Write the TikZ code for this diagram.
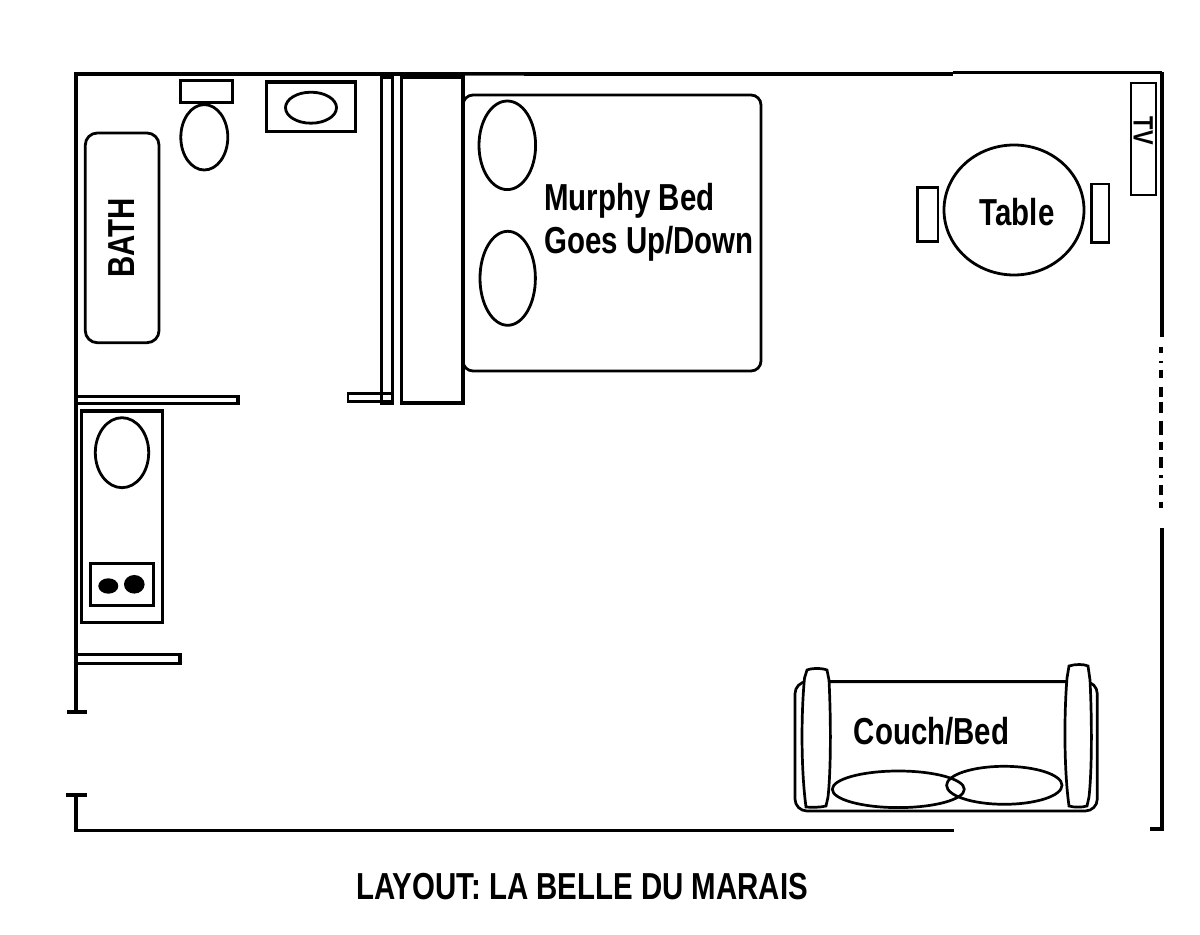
\documentclass[tikz,border=0pt]{standalone}
\usepackage{fontspec}
\setmainfont{Liberation Sans}
\newcommand\lbl[1]{\scalebox{.783}[1]{#1}}
\tikzset{
  wall/.style={line width=1.8pt,line cap=butt},
  item/.style={line width=1.4pt,line join=miter},
  partition/.style={line width=1.55pt,line join=miter},
  thinitem/.style={line width=1.1pt},
  soft/.style={line width=1.35pt},
  caption/.style={inner sep=0pt,font=\fontsize{18.8}{22}\selectfont\bfseries},
}
\begin{document}
\begin{tikzpicture}[x=.5pt,y=-.5pt]
\useasboundingbox (0,0) rectangle (1200,935);
% outer walls
\draw[wall] (76,712) -- (76,74) -- (953,74);
\draw[line width=1.5pt] (953,73) -- (1162,73);
\draw[wall] (1162,72) -- (1162,337);
\foreach \a/\b in {346.7/353.3,360.7/363.3,370/378.3,386.7/396.7,401.7/413.3,420.7/435,441.7/450,456.7/468.3,475/478.3,485/495,501.7/508.3}
  \draw[line width=1.7pt] (1161,\a) -- (1161,\b);
\draw[wall,line join=miter] (1162,528) -- (1162,829) -- (1150,829);
\draw[wall] (67,712) -- (87,712);
\draw[wall] (66,795) -- (87,795);
\draw[wall,line join=miter] (76,795) -- (76,830.5) -- (954,830.5);
% bathroom
\draw[partition] (180.7,80.7) rectangle (232.3,102.7);
\draw[item] (204.3,137.3) ellipse [x radius=23.5,y radius=32.7];
\draw[partition] (266.7,82) rectangle (355.7,131.7);
\draw[item] (311,107.7) ellipse [x radius=25.5,y radius=15.5];
\draw[item,rounded corners=6pt] (85.3,133) rectangle (159,342.7);
\node[caption,rotate=90] (bath) at (121.7,238) {\lbl{BATH}};
\draw[partition] (381.3,77) rectangle (392.7,403);
\draw[item] (348,393.5) rectangle (392,401.5);
\draw[partition] (76,396.5) rectangle (238,403.5);
% murphy bed
\draw[line width=.5pt,black!60] (401,76) -- (524,76);
\draw[line width=1.65pt,line join=miter] (401.7,77) rectangle (463,403);
\draw[item,rounded corners=5pt] (463,95) rectangle (761,371);
\draw[item] (507.3,145.3) ellipse [x radius=28.3,y radius=44.3];
\draw[item] (507.7,278.3) ellipse [x radius=27.7,y radius=47];
\node[caption,anchor=base west] (murphy) at (544,211) {\lbl{Murphy Bed}};
\node[caption,anchor=base west] (goes) at (544,254) {\lbl{Goes Up/Down}};
% kitchen
\draw[partition] (81.3,411) rectangle (162.7,622.3);
\draw[item] (122,452.7) ellipse [x radius=26.7,y radius=35];
\draw[partition] (90.7,563.3) rectangle (153.3,605.7);
\fill (108.3,586) ellipse [x radius=10,y radius=7.7];
\fill (134.3,584.3) ellipse [x radius=10.3,y radius=9.3];
\draw[partition] (76,654.8) rectangle (180,663.8);
% table and TV
\draw[thinitem] (1130.7,83.3) rectangle (1156,195);
\node[inner sep=0pt,font=\fontsize{14}{16}\selectfont\bfseries,rotate=-90] (tv) at (1143.3,130.7) {\lbl{TV}};
\draw[item] (1014,210) ellipse [x radius=70,y radius=65];
\draw[item] (917.7,187.7) rectangle (938,241.7);
\draw[item] (1091.7,184) rectangle (1109,242.3);
\node[caption] (table) at (1017,212) {\lbl{Table}};
% couch
\draw[soft,rounded corners=6pt] (795,681.7) rectangle (1097.3,811);
\draw[soft,fill=white] (806,807) .. controls (801,770) and (801,715) .. (804.5,678)
  -- (807,670) .. controls (812,668) and (822,668) .. (827,670) -- (829,680)
  .. controls (831,720) and (831,770) .. (828,797) -- (826,806) .. controls (820,807.5) and (812,807.5) .. (806,807) -- cycle;
\draw[soft,fill=white] (1069,806) .. controls (1064,770) and (1064,715) .. (1067,678)
  -- (1069,666) .. controls (1075,664) and (1084,664) .. (1088,666) -- (1090,680)
  .. controls (1092,720) and (1092,770) .. (1089,797) -- (1087,806) .. controls (1082,807.5) and (1074,807.5) .. (1069,806) -- cycle;
\draw[soft] (829,681.7) -- (1067,681.7);
\draw[soft] (898.3,789.3) ellipse [x radius=66,y radius=18.3];
\draw[soft] (1004.3,785.3) ellipse [x radius=57.7,y radius=19];
\node[caption] (couch) at (931.5,731) {\lbl{Couch/Bed}};
% title
\node[caption] (title) at (582,887) {\lbl{LAYOUT: LA BELLE DU MARAIS}};
\end{tikzpicture}
\end{document}
